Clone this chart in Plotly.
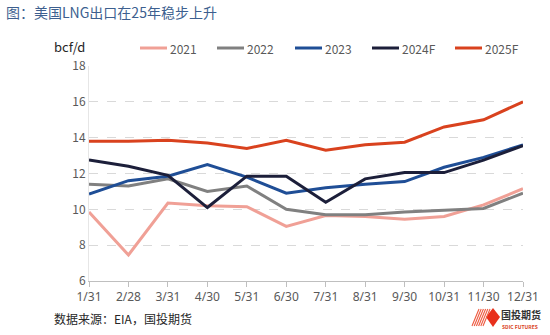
import plotly.graph_objects as go

months = ["1/31", "2/28", "3/31", "4/30", "5/31", "6/30",
          "7/31", "8/31", "9/30", "10/31", "11/30", "12/31"]

y2021 = [9.85, 7.45, 10.35, 10.2, 10.15, 9.05, 9.65, 9.6, 9.45, 9.6, 10.25, 11.15]
y2022 = [11.4, 11.3, 11.7, 11.0, 11.3, 10.0, 9.7, 9.7, 9.85, 9.95, 10.05, 10.9]
y2023 = [10.85, 11.6, 11.85, 12.5, 11.8, 10.9, 11.2, 11.4, 11.55, 12.35, 12.9, 13.6]
y2024f = [12.75, 12.4, 11.9, 10.1, 11.85, 11.85, 10.4, 11.7, 12.05, 12.05, 12.75, 13.55]
y2025f = [13.8, 13.8, 13.85, 13.7, 13.4, 13.85, 13.3, 13.6, 13.75, 14.6, 15.0, 16.0]

series = [
    ("2021", y2021, "#f0a096"),
    ("2022", y2022, "#808080"),
    ("2023", y2023, "#1f4e96"),
    ("2024F", y2024f, "#1c1f3a"),
    ("2025F", y2025f, "#d9421e"),
]

x_idx = list(range(len(months)))

W, H = 550, 335
L, R, T, B = 89, 27, 66, 54
pw, ph = W - L - R, H - T - B


def px(x, y):
    """Pixel position on the page -> paper coordinates."""
    return (x - L) / pw, 1 - (y - T) / ph


fig = go.Figure()
for name, vals, color in series:
    fig.add_trace(go.Scatter(
        x=x_idx, y=vals, mode="lines", name=name,
        line=dict(color=color, width=3), showlegend=False,
    ))


def note(text, x, y, size, color, anchor="left", family=None):
    fx, fy = px(x, y)
    f = dict(size=size, color=color)
    if family:
        f["family"] = family
    return dict(text=text, x=fx, y=fy, xref="paper", yref="paper",
                xanchor=anchor, yanchor="middle", showarrow=False, font=f)


annotations = [
    note("图：美国LNG出口在25年稳步上升", 4, 12, 14, "#3d5f8f"),
    note("bcf/d", 52, 47, 13, "#262626"),
    note("数据来源：EIA，国投期货", 52, 318, 12, "#262626"),
    note("<b>国投期货</b>", 499, 314, 10, "#333333"),
    note("<b>SDIC FUTURES</b>", 500, 326, 5, "#d9421e"),
]

shapes = []

# Legend row across the top: short line sample followed by the series name
legend_x = [140, 217, 295, 372, 455]
for (name, _, color), x0 in zip(series, legend_x):
    a0 = px(x0, 48)
    a1 = px(x0 + 27, 48)
    shapes.append(dict(type="line", xref="paper", yref="paper",
                       x0=a0[0], y0=a0[1], x1=a1[0], y1=a1[1],
                       line=dict(color=color, width=3)))
    annotations.append(note(name, x0 + 28, 48, 12, "#595959"))

# Logo mark: striped red parallelogram and a solid red diamond
d = [px(493, 308), px(500, 317), px(493, 327), px(486, 317)]
shapes.append(dict(type="path", xref="paper", yref="paper",
                   path="M {} {} L {} {} L {} {} L {} {} Z".format(*[c for p in d for c in p]),
                   fillcolor="#e8301c", line=dict(width=0)))
for i in range(6):
    x0 = 472 + i * 2.2
    p0 = px(x0, 326)
    p1 = px(x0 + 7, 309)
    shapes.append(dict(type="line", xref="paper", yref="paper",
                       x0=p0[0], y0=p0[1], x1=p1[0], y1=p1[1],
                       line=dict(color="#ee5a40", width=1.1)))

fig.update_layout(
    width=W, height=H,
    margin=dict(l=L, r=R, t=T, b=B),
    paper_bgcolor="white", plot_bgcolor="white",
    font=dict(family="Noto Sans CJK SC, Noto Sans, sans-serif", color="#595959", size=12),
    showlegend=False,
    xaxis=dict(
        range=[0, 11], tickvals=x_idx, ticktext=months,
        showgrid=False, zeroline=False,
        showline=True, linecolor="#bfbfbf", linewidth=1,
        ticks="outside", ticklen=5, tickcolor="#bfbfbf",
        tickfont=dict(size=12, color="#595959", family="Liberation Sans Narrow, Noto Sans, sans-serif"),
    ),
    yaxis=dict(
        range=[6, 18], tickvals=[6, 8, 10, 12, 14, 16, 18],
        showgrid=True, gridcolor="#d9d9d9", griddash="dash", gridwidth=1,
        zeroline=False, showline=True, linecolor="#e6e6e6", linewidth=1,
        ticks="", tickfont=dict(size=12, color="#595959"),
    ),
    annotations=annotations,
    shapes=shapes,
)

fig.write_html("out.html")
